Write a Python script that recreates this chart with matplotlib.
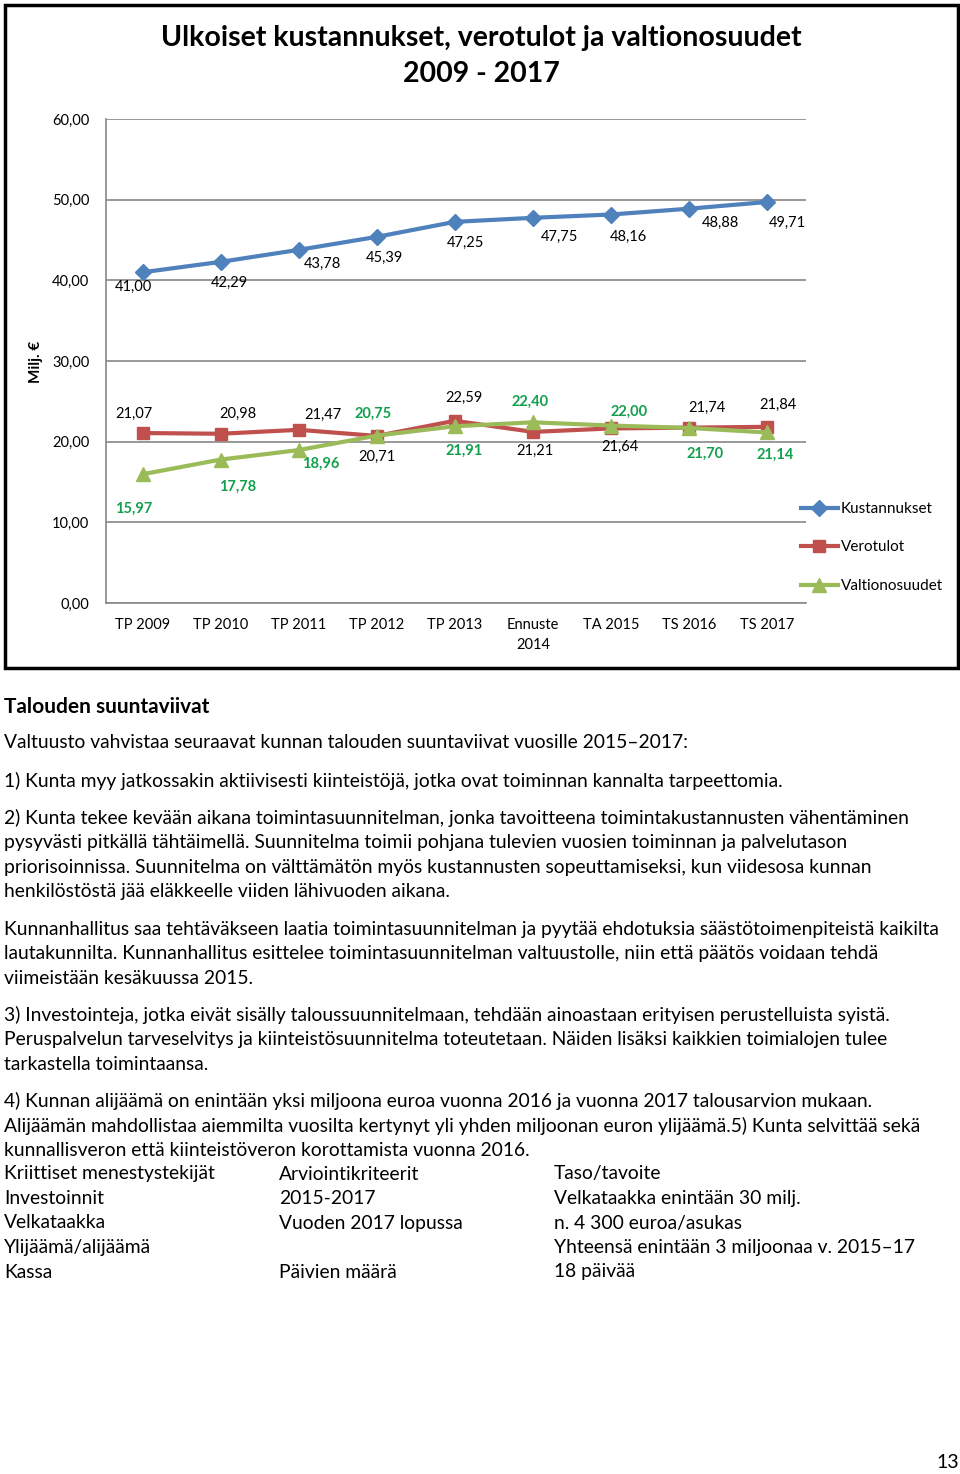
import matplotlib
matplotlib.use("Agg")
import matplotlib.pyplot as plt
from matplotlib.patches import Rectangle

# data
categories = ["TP 2009", "TP 2010", "TP 2011", "TP 2012", "TP 2013",
              "Ennuste\n2014", "TA 2015", "TS 2016", "TS 2017"]
kustannukset = [41.00, 42.29, 43.78, 45.39, 47.25, 47.75, 48.16, 48.88, 49.71]
verotulot = [21.07, 20.98, 21.47, 20.71, 22.59, 21.21, 21.64, 21.74, 21.84]
valtionosuudet = [15.97, 17.78, 18.96, 20.75, 21.91, 22.40, 22.00, 21.70, 21.14]
y_ticks = [0, 10, 20, 30, 40, 50, 60]

# label offsets (pixels, x right / y up) for the value labels
off_k = [(-9, -15), (9, -21), (24, -14), (8, -21), (11, -21), (27, -19), (18, -22), (31, -14), (20, -21)]
off_v = [(-9, 19), (17, 20), (24, 15), (0, -21), (9, 23), (2, -19), (9, -18), (18, 20), (11, 22)]
off_o = [(-9, -35), (17, -27), (22, -14), (-4, 22), (9, -25), (-3, 21), (18, 14), (16, -26), (8, -22)]

CHART_FONT = ["Lato", "DejaVu Sans"]
TEXT_FONT = ["Lato", "DejaVu Sans"]
plt.rcParams["font.family"] = CHART_FONT

W, H = 960, 1474
fig = plt.figure(figsize=(W / 100, H / 100), dpi=100)

def fx(px):
    return px / W

def fy(py):
    return 1 - py / H

ax = fig.add_axes([fx(106), fy(603), fx(806) - fx(106), fy(119) - fy(603)])
x = list(range(len(categories)))

ax.plot(x, kustannukset, color="#4F81BD", lw=3, marker="D", ms=8, label="Kustannukset", zorder=3)
ax.plot(x, verotulot, color="#C0504D", lw=3, marker="s", ms=8.5, label="Verotulot", zorder=3)
ax.plot(x, valtionosuudet, color="#9BBB59", lw=3, marker="^", ms=10, label="Valtionosuudet", zorder=4)

def fmt(v):
    return f"{v:.2f}".replace(".", ",")

for i in x:
    ax.annotate(fmt(kustannukset[i]), (i, kustannukset[i]), xytext=off_k[i],
                textcoords="offset pixels", ha="center", va="center", fontsize=10.5)
    ax.annotate(fmt(verotulot[i]), (i, verotulot[i]), xytext=off_v[i],
                textcoords="offset pixels", ha="center", va="center", fontsize=10.5)
    ax.annotate(fmt(valtionosuudet[i]), (i, valtionosuudet[i]), xytext=off_o[i],
                textcoords="offset pixels", ha="center", va="center", fontsize=10.5,
                color="#12A04E", fontweight="bold")

ax.set_xlim(-0.47, 8.5)
ax.set_ylim(0, 60)
ax.set_yticks(y_ticks)
ax.set_yticklabels([fmt(v) for v in y_ticks], fontsize=10.5)
ax.set_xticks(x)
ax.set_xticklabels(categories, fontsize=10.5, linespacing=1.5)
ax.tick_params(axis="y", length=0, pad=12)
ax.tick_params(axis="x", length=0, pad=11)
ax.grid(axis="y", color="#888888", lw=1.2)
ax.set_axisbelow(True)
for s in ["top", "right"]:
    ax.spines[s].set_visible(False)
for s in ["left", "bottom"]:
    ax.spines[s].set_color("#888888")
    ax.spines[s].set_linewidth(1.2)

fig.legend(loc="upper left", bbox_to_anchor=(fx(801), fy(502)), frameon=False,
           fontsize=11, handlelength=2.4, handletextpad=0.2, labelspacing=1.6,
           borderpad=0, borderaxespad=0, numpoints=1)

fig.text(fx(481), fy(38), "Ulkoiset kustannukset, verotulot ja valtionosuudet",
         ha="center", va="center", fontsize=20.5, fontweight="bold")
fig.text(fx(481), fy(74), "2009 - 2017", ha="center", va="center", fontsize=20.5, fontweight="bold")
fig.text(fx(36), fy(362), "Milj. €", rotation=90, ha="center", va="center",
         fontsize=11, fontweight="bold")

fig.patches.append(Rectangle((fx(5), fy(668)), fx(958) - fx(5), fy(5) - fy(668),
                             transform=fig.transFigure, fill=False, lw=2.5,
                             edgecolor="black"))

# text below the chart
heading = "Talouden suuntaviivat"
paragraphs = [
    (743, ["Valtuusto vahvistaa seuraavat kunnan talouden suuntaviivat vuosille 2015–2017:"]),
    (781, ["1) Kunta myy jatkossakin aktiivisesti kiinteistöjä, jotka ovat toiminnan kannalta tarpeettomia."]),
    (818, ["2) Kunta tekee kevään aikana toimintasuunnitelman, jonka tavoitteena toimintakustannusten vähentäminen",
           "pysyvästi pitkällä tähtäimellä. Suunnitelma toimii pohjana tulevien vuosien toiminnan ja palvelutason",
           "priorisoinnissa. Suunnitelma on välttämätön myös kustannusten sopeuttamiseksi, kun viidesosa kunnan",
           "henkilöstöstä jää eläkkeelle viiden lähivuoden aikana."]),
    (929, ["Kunnanhallitus saa tehtäväkseen laatia toimintasuunnitelman ja pyytää ehdotuksia säästötoimenpiteistä kaikilta",
           "lautakunnilta. Kunnanhallitus esittelee toimintasuunnitelman valtuustolle, niin että päätös voidaan tehdä",
           "viimeistään kesäkuussa 2015."]),
    (1015, ["3) Investointeja, jotka eivät sisälly taloussuunnitelmaan, tehdään ainoastaan erityisen perustelluista syistä.",
            "Peruspalvelun tarveselvitys ja kiinteistösuunnitelma toteutetaan. Näiden lisäksi kaikkien toimialojen tulee",
            "tarkastella toimintaansa."]),
    (1101, ["4) Kunnan alijäämä on enintään yksi miljoona euroa vuonna 2016 ja vuonna 2017 talousarvion mukaan.",
            "Alijäämän mahdollistaa aiemmilta vuosilta kertynyt yli yhden miljoonan euron ylijäämä.5) Kunta selvittää sekä",
            "kunnallisveron että kiinteistöveron korottamista vuonna 2016."]),
]
table_col1 = ["Kriittiset menestystekijät", "Investoinnit", "Velkataakka", "Ylijäämä/alijäämä", "Kassa"]
table_col2 = ["Arviointikriteerit", "2015-2017", "Vuoden 2017 lopussa", "", "Päivien määrä"]
table_col3 = ["Taso/tavoite", "Velkataakka enintään 30 milj.", "n. 4 300 euroa/asukas",
              "Yhteensä enintään 3 miljoonaa v. 2015–17", "18 päivää"]

TXT = 13.9
fig.text(fx(4), fy(707), heading, ha="left", va="center", fontsize=15,
         fontweight="bold", family=TEXT_FONT)
for y0, lines in paragraphs:
    for k, line in enumerate(lines):
        fig.text(fx(4), fy(y0 + 24.5 * k), line, ha="left", va="center",
                 fontsize=TXT, family=TEXT_FONT)
for r in range(len(table_col1)):
    yy = fy(1174 + 24.5 * r)
    fig.text(fx(4), yy, table_col1[r], ha="left", va="center", fontsize=TXT, family=TEXT_FONT)
    fig.text(fx(279), yy, table_col2[r], ha="left", va="center", fontsize=TXT, family=TEXT_FONT)
    fig.text(fx(554), yy, table_col3[r], ha="left", va="center", fontsize=TXT, family=TEXT_FONT)

fig.text(fx(948), fy(1462), "13", ha="center", va="center", fontsize=14, family=TEXT_FONT)

fig.savefig("out.png", dpi=100)
